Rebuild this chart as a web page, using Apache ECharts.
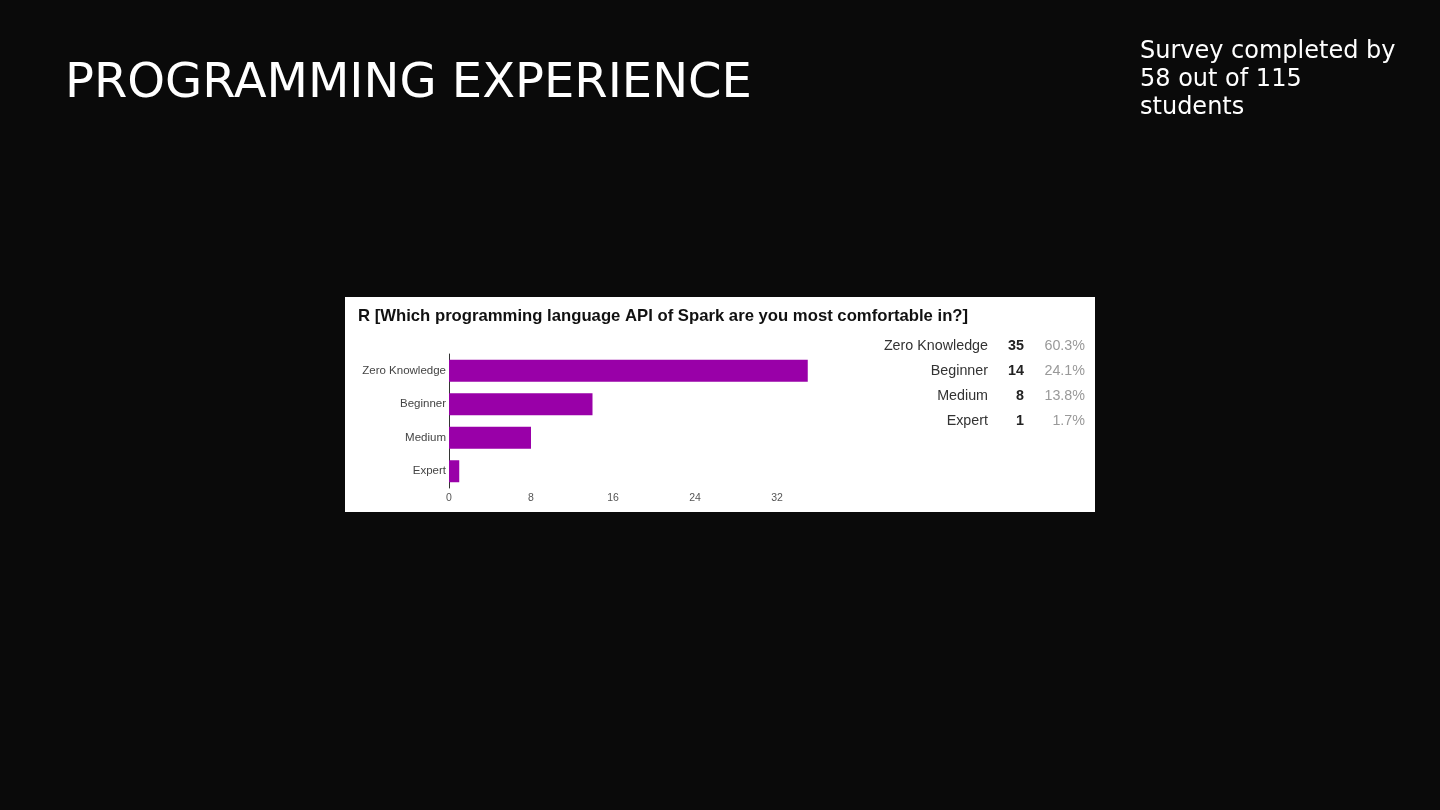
<!DOCTYPE html>
<html><head><meta charset="utf-8">
<script src="https://cdn.jsdelivr.net/npm/echarts@6/dist/echarts.min.js"></script>
<style>html,body{margin:0;padding:0;background:#0a0a0a;}#c{width:1440px;height:810px;}</style>
</head><body><div id="c"></div>
<script>
const categories = ['Zero Knowledge', 'Beginner', 'Medium', 'Expert'];
const counts = [35, 14, 8, 1];
const percents = ['60.3%', '24.1%', '13.8%', '1.7%'];
const xTicks = [0, 8, 16, 24, 32];
const slideTitle = 'PROGRAMMING EXPERIENCE';
const noteLines = ['Survey completed by', '58 out of 115', 'students'];
const panelTitle = 'R [Which programming language API of Spark are you most comfortable in?]';

const chart = echarts.init(document.getElementById('c'));
const graphics = [
  {type:'rect', shape:{x:345,y:297,width:750,height:215}, style:{fill:'#ffffff'}, z:0},
  {type:'text', left:65, top:61, style:{text:slideTitle, fill:'#ffffff', font:'48px "DejaVu Sans"'}, z:5},
  {type:'text', left:1140, top:38, style:{text:noteLines.join('\n'), fill:'#ffffff', font:'24px "DejaVu Sans"', lineHeight:28}, z:5},
  {type:'text', left:358, top:308, style:{text:panelTitle, fill:'#111111', font:'bold 16.7px "Liberation Sans"'}, z:5}
];
const rowY = [346, 371, 396, 421];
categories.forEach((c,i)=>{
  graphics.push({type:'text', x:988, y:rowY[i], style:{text:c, fill:'#333333', font:'14.3px "Liberation Sans"', align:'right', verticalAlign:'middle'}, z:5});
  graphics.push({type:'text', x:1024, y:rowY[i], style:{text:String(counts[i]), fill:'#222222', font:'bold 14.3px "Liberation Sans"', align:'right', verticalAlign:'middle'}, z:5});
  graphics.push({type:'text', x:1085, y:rowY[i], style:{text:percents[i], fill:'#999999', font:'14.3px "Liberation Sans"', align:'right', verticalAlign:'middle'}, z:5});
});

chart.setOption({
  backgroundColor:'#0a0a0a',
  animation:false,
  graphic: graphics,
  grid:{left:449, top:354, width:410, height:134, containLabel:false},
  xAxis:{type:'value', min:0, max:40, interval:8,
    axisLine:{show:false}, axisTick:{show:false}, splitLine:{show:false},
    axisLabel:{color:'#555', fontSize:10.5, fontFamily:'Liberation Sans', margin:5,
      formatter:v=> xTicks.includes(v) ? String(v) : ''}},
  yAxis:{type:'category', data:categories, inverse:true,
    axisLine:{show:true, lineStyle:{color:'#333', width:1}}, axisTick:{show:false},
    axisLabel:{color:'#444', fontSize:11.5, fontFamily:'Liberation Sans', margin:3}},
  series:[{type:'bar', data:counts, barWidth:22, itemStyle:{color:'#9900a8'}, z:3}]
});
</script></body></html>
